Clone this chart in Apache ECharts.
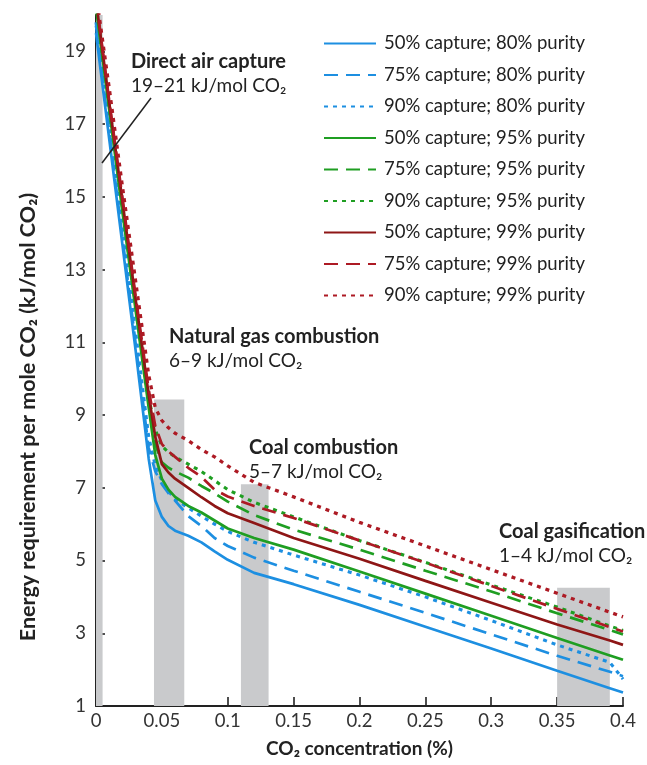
<!DOCTYPE html>
<html><head><meta charset="utf-8">
<script src="https://cdn.jsdelivr.net/npm/echarts@6/dist/echarts.min.js"></script>
<style>html,body{margin:0;padding:0;background:#fff}#c{width:647px;height:765px}</style>
</head><body><div id="c"></div>
<script>
// ---- data ----
const xValues   = [0, 0.01, 0.02, 0.03, 0.04, 0.045, 0.05, 0.055, 0.06, 0.07, 0.08, 0.09, 0.1, 0.12, 0.15, 0.2, 0.25, 0.3, 0.35, 0.39, 0.4];
const cap50pur80 = [19.5, 16.6, 13.7, 10.8, 7.8, 6.65, 6.2, 5.95, 5.82, 5.68, 5.5, 5.25, 5.02, 4.66, 4.35, 3.78, 3.18, 2.58, 1.97, 1.49, 1.37];
const cap75pur80 = [19.7, 16.8, 13.9, 11.0, 8.1, 7.45, 7.1, 6.85, 6.65, 6.22, 5.95, 5.62, 5.4, 5.08, 4.72, 4.14, 3.56, 2.97, 2.38, 1.94, 1.82];
const cap90pur80 = [19.8, 16.9, 14.1, 11.3, 8.4, 7.6, 7.2, 6.9, 6.7, 6.45, 6.22, 6.0, 5.8, 5.5, 5.15, 4.6, 4.0, 3.35, 2.68, 2.2, 1.74];
const cap50pur95 = [20.2, 17.4, 14.6, 11.9, 9.2, 7.9, 7.25, 6.95, 6.75, 6.5, 6.32, 6.1, 5.88, 5.62, 5.3, 4.7, 4.09, 3.48, 2.87, 2.39, 2.27];
const cap75pur95 = [20.3, 17.5, 14.7, 12.0, 9.35, 8.2, 7.7, 7.55, 7.45, 7.28, 7.05, 6.85, 6.62, 6.25, 5.85, 5.3, 4.72, 4.15, 3.55, 3.09, 2.97];
const cap90pur95 = [20.3, 17.55, 14.8, 12.1, 9.5, 8.6, 8.15, 7.98, 7.85, 7.65, 7.45, 7.2, 6.95, 6.6, 6.2, 5.55, 4.95, 4.33, 3.72, 3.2, 3.08];
const cap50pur99 = [20.4, 17.6, 14.9, 12.2, 9.55, 8.4, 7.65, 7.42, 7.25, 7.0, 6.74, 6.5, 6.3, 6.03, 5.62, 5.05, 4.44, 3.84, 3.24, 2.8, 2.68];
const cap75pur99 = [20.45, 17.65, 15.0, 12.3, 9.7, 8.7, 8.2, 8.0, 7.85, 7.55, 7.3, 6.95, 6.76, 6.5, 6.17, 5.55, 4.94, 4.3, 3.67, 3.17, 3.05];
const cap90pur99 = [20.6, 18.0, 15.3, 12.7, 10.1, 9.2, 8.85, 8.65, 8.5, 8.3, 8.05, 7.85, 7.6, 7.15, 6.75, 6.05, 5.4, 4.75, 4.1, 3.58, 3.45];

const seriesNames = ['50% capture; 80% purity','75% capture; 80% purity','90% capture; 80% purity',
                     '50% capture; 95% purity','75% capture; 95% purity','90% capture; 95% purity',
                     '50% capture; 99% purity','75% capture; 99% purity','90% capture; 99% purity'];
const seriesValues = [cap50pur80, cap75pur80, cap90pur80, cap50pur95, cap75pur95, cap90pur95, cap50pur99, cap75pur99, cap90pur99];

const xTicks = [0, 0.05, 0.1, 0.15, 0.2, 0.25, 0.3, 0.35, 0.4];
const yTicks = [1, 3, 5, 7, 9, 11, 13, 15, 17, 19];

// source ranges (shaded bars)
const barNames = ['Direct air capture', 'Natural gas combustion', 'Coal combustion', 'Coal gasification'];
const barStart = [0, 0.044, 0.110, 0.350];
const barEnd   = [0.005, 0.067, 0.131, 0.390];
const barTop   = [20, 9.43, 7.1, 4.25];
const barRanges = ['19–21 kJ/mol CO₂', '6–9 kJ/mol CO₂', '5–7 kJ/mol CO₂', '1–4 kJ/mol CO₂'];

// ---- styles ----
const FONT = 'Lato';
const blue = '#1d8fe1', green = '#1f9e22', redDark = '#8e1616', red = '#ad1a24';
const colors = [blue, blue, blue, green, green, green, redDark, red, red];
const dashes = ['solid', [14, 8], [4, 5], 'solid', [14, 8], [4, 5], 'solid', [14, 8], [4, 5]];
const widths = [2.7, 2.7, 3.1, 2.7, 2.7, 3.1, 2.7, 2.7, 3.3];

const chart = echarts.init(document.getElementById('c'), null, {renderer: 'canvas'});

const lineSeries = seriesNames.map((name, i) => ({
  name, type: 'line', z: 3,
  data: xValues.map((x, j) => [x, seriesValues[i][j]]),
  symbol: 'none', showSymbol: false, smooth: false,
  clip: true,
  color: colors[i],
  itemStyle: {color: colors[i]},
  lineStyle: {color: colors[i], width: widths[i], type: dashes[i]},
  emphasis: {disabled: true}
}));

const barSeries = {
  name: 'ranges', type: 'line', data: [], z: 1, silent: true,
  markArea: {
    silent: true,
    itemStyle: {color: '#c9cacc'},
    label: {show: false},
    data: barNames.map((n, i) => [{xAxis: barStart[i], yAxis: 1}, {xAxis: barEnd[i], yAxis: barTop[i]}])
  }
};

const axisCommon = {
  axisLine: {show: true, onZero: false, lineStyle: {color: '#222', width: 2}},
  axisTick: {show: true, inside: true, length: 9, lineStyle: {color: '#222', width: 1.6}},
  splitLine: {show: false},
  axisLabel: {color: '#333', fontFamily: FONT, fontSize: 18.5}
};

chart.setOption({
  animation: false,
  backgroundColor: '#fff',
  grid: {left: 96, right: 24, top: 15, bottom: 59},
  legend: {
    orient: 'vertical', left: 318, top: 29,
    itemWidth: 52, itemHeight: 14, itemGap: 12.5,
    selectedMode: false,
    data: seriesNames,
    itemStyle: {opacity: 0},
    textStyle: {color: '#222', fontFamily: FONT, fontSize: 18.5, lineHeight: 17, padding: [0, 0, 0, 3]}
  },
  xAxis: Object.assign({}, axisCommon, {
    type: 'value', min: 0, max: 0.4, interval: 0.05,
    axisTick: Object.assign({}, axisCommon.axisTick, {customValues: xTicks}),
    axisLabel: Object.assign({}, axisCommon.axisLabel, {customValues: xTicks, margin: 6}),
    name: 'CO₂ concentration (%)', nameLocation: 'middle', nameGap: 33,
    nameTextStyle: {color: '#222', fontFamily: FONT, fontSize: 19, fontWeight: 'bold'}
  }),
  yAxis: Object.assign({}, axisCommon, {
    type: 'value', min: 1, max: 20, interval: 2,
    axisTick: Object.assign({}, axisCommon.axisTick, {customValues: yTicks}),
    axisLabel: {show: false}
  }),
  series: [barSeries].concat(lineSeries)
});

// y tick labels placed through the axis scale
const graphics = [];
const xAxisPx = chart.convertToPixel({xAxisIndex: 0}, 0);
yTicks.forEach(v => {
  graphics.push({type: 'text', x: xAxisPx - 10, y: chart.convertToPixel({yAxisIndex: 0}, v), z: 10,
    style: {text: String(v), fill: '#333', font: '18.5px ' + FONT, align: 'right', verticalAlign: 'middle'}});
});

// annotations (positioned by pixel)
const ann = [
  {x: 131, y: 62}, {x: 169, y: 337}, {x: 249, y: 448}, {x: 499, y: 532}
];
ann.forEach((p, i) => {
  graphics.push({type: 'text', x: p.x, y: p.y, z: 10, style: {text: barNames[i], fill: '#222', font: 'bold 20px ' + FONT, align: 'left', verticalAlign: 'middle'}});
  graphics.push({type: 'text', x: p.x, y: p.y + 24, z: 10, style: {text: barRanges[i], fill: '#222', font: '19px ' + FONT, align: 'left', verticalAlign: 'middle'}});
});
graphics.push({type: 'line', z: 10, shape: {x1: 151, y1: 98, x2: 102, y2: 163}, style: {stroke: '#222', lineWidth: 1.5}});
graphics.push({type: 'text', x: 28, y: 417, rotation: Math.PI / 2, z: 10,
  style: {text: 'Energy requirement per mole CO₂ (kJ/mol CO₂)', fill: '#222', font: 'bold 21.5px ' + FONT, align: 'center', verticalAlign: 'middle'}});
chart.setOption({graphic: graphics});
</script>
</body></html>
